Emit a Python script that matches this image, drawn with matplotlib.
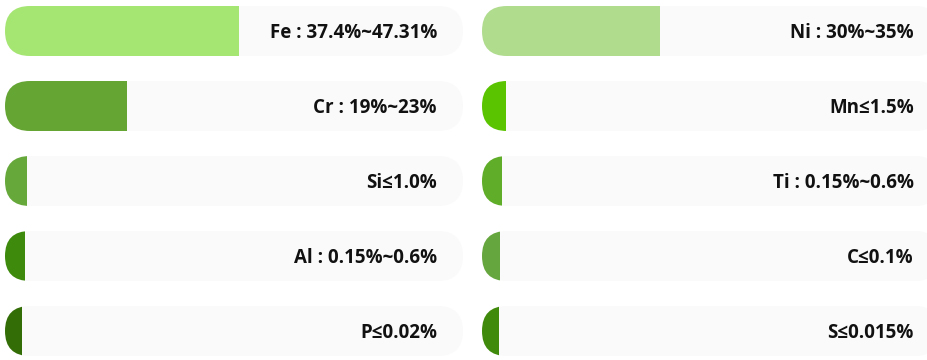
import matplotlib
matplotlib.use("Agg")
from matplotlib import pyplot as plt
from matplotlib.patches import FancyBboxPatch, Rectangle

plt.rcParams['font.family'] = ['Open Sans', 'DejaVu Sans']

# left column
left_labels = ["Fe : 37.4%~47.31%", "Cr : 19%~23%", "Si≤1.0%", "Al : 0.15%~0.6%", "P≤0.02%"]
left_fill = [51.1, 26.6, 4.8, 4.4, 3.7]   # bar length, % of track
left_colors = ["#a5e673", "#65a534", "#66a83a", "#3e8a0c", "#336d06"]

# right column
right_labels = ["Ni : 30%~35%", "Mn≤1.5%", "Ti : 0.15%~0.6%", "C≤0.1%", "S≤0.015%"]
right_fill = [38.9, 5.2, 4.4, 3.9, 3.7]
right_colors = ["#b0dc8e", "#5ac400", "#5fad28", "#66a63e", "#3f8a0b"]

W, H = 928, 360
track_px = 458
row_px = 75
bar_px = 50
radius_px = 25

fig = plt.figure(figsize=(W / 100, H / 100), dpi=100)


def draw_column(left_px, labels, fill, colors):
    ax = fig.add_axes([left_px / W, 0, track_px / W, 1])
    ax.set_xlim(0, 100)
    top = -31 / row_px
    ax.set_ylim(top + H / row_px, top)
    ax.axis("off")

    xu = track_px / 100        # px per x unit
    r = radius_px / xu         # radius in x units
    h = bar_px / row_px        # bar height in y units
    aspect = xu / row_px       # y units per x unit

    for i, (lab, w, c) in enumerate(zip(labels, fill, colors)):
        y0 = i - h / 2
        track = FancyBboxPatch((0, y0), 100, h,
                               boxstyle=f"round,pad=0,rounding_size={r}",
                               mutation_aspect=aspect,
                               fc="#fafafa", ec="none", clip_on=False)
        ax.add_patch(track)

        bar = FancyBboxPatch((0, y0), w + 2 * r, h,
                             boxstyle=f"round,pad=0,rounding_size={r}",
                             mutation_aspect=aspect,
                             fc=c, ec="none")
        ax.add_patch(bar)
        clip = Rectangle((0, y0), w, h, transform=ax.transData)
        bar.set_clip_path(clip)

        ax.text(100 - 26 / xu, i + 2 / row_px, lab, ha="right", va="center",
                fontsize=13.5, fontweight="bold", color="#111111")


draw_column(5, left_labels, left_fill, left_colors)
draw_column(482, right_labels, right_fill, right_colors)

fig.savefig("out.png", dpi=100, facecolor="white")
